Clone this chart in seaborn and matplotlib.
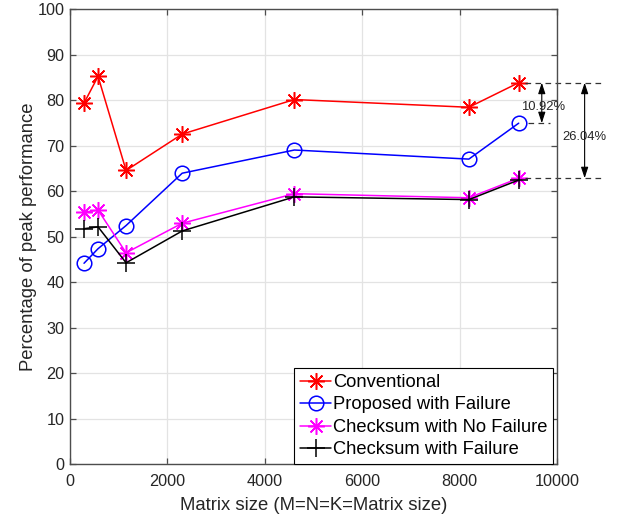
import numpy as np
import pandas as pd
import matplotlib
matplotlib.use("Agg")
import matplotlib.pyplot as plt
import seaborn as sns

# ---- data ----
matrix_size = [288, 576, 1152, 2304, 4608, 8192, 9216]
conventional = [79.4, 85.3, 64.6, 72.6, 80.2, 78.5, 83.9]
proposed_failure = [44.2, 47.4, 52.5, 64.0, 69.1, 67.1, 75.0]
checksum_no_failure = [55.4, 55.9, 46.5, 53.0, 59.5, 58.6, 62.9]
checksum_failure = [51.8, 52.2, 44.3, 51.3, 58.8, 58.2, 62.5]
series_names = ["Conventional", "Proposed with Failure",
                "Checksum with No Failure", "Checksum with Failure"]
x_ticks = [0, 2000, 4000, 6000, 8000, 10000]
y_ticks = list(range(0, 101, 10))
gap_small_label = "10.92%"
gap_large_label = "26.04%"

sns.set_theme(style="ticks")
plt.rcParams["font.family"] = ["Liberation Sans", "DejaVu Sans"]

fig = plt.figure(figsize=(6.25, 5.18), dpi=100)
ax = fig.add_axes([0.112, 0.1037, 0.779, 0.878])

asterisk = (8, 2, 0)
styles = [
    dict(color="#ff0000", marker=asterisk, markersize=12, markerfacecolor="#ff0000"),
    dict(color="#0000ff", marker="o", markersize=10.5, markerfacecolor="none"),
    dict(color="#ff00ff", marker=asterisk, markersize=12, markerfacecolor="#ff00ff"),
    dict(color="#000000", marker="+", markersize=13, markerfacecolor="#000000"),
]
all_y = [conventional, proposed_failure, checksum_no_failure, checksum_failure]
for name, ys, st in zip(series_names, all_y, styles):
    df = pd.DataFrame({"x": matrix_size, "y": ys})
    sns.lineplot(data=df, x="x", y="y", ax=ax, label=name, linewidth=1.1,
                 markeredgecolor=st["color"], markeredgewidth=1.1, **st)

ax.set_xlim(0, 10000)
ax.set_ylim(0, 100)
ax.set_xticks(x_ticks)
ax.set_yticks(y_ticks)
ax.set_xticklabels([str(t) for t in x_ticks], fontsize=11.7)
ax.set_yticklabels([str(t) for t in y_ticks], fontsize=11.7)
ax.grid(True, color="#e3e3e3", lw=0.9)
ax.set_axisbelow(True)
for s in ax.spines.values():
    s.set_visible(True)
    s.set_color("#4d4d4d")
    s.set_linewidth(1.0)
ax.tick_params(direction="in", length=4, width=0.9, color="#4d4d4d",
               top=True, right=True, labelcolor="#262626")
ax.tick_params(axis="x", pad=7)
ax.tick_params(axis="y", pad=4)
ax.set_xlabel("Matrix size (M=N=K=Matrix size)", fontsize=13.3, color="#262626", labelpad=6)
ax.set_ylabel("Percentage of peak performance", fontsize=13.3, color="#262626", labelpad=0.5)

leg = ax.legend(loc="lower right", bbox_to_anchor=(0.993, 0.0), borderaxespad=0,
                fontsize=13.2, frameon=True, fancybox=False, framealpha=1,
                edgecolor="#000000", handlelength=1.7, handletextpad=0.1,
                labelspacing=0.3, borderpad=0.32)
leg.get_frame().set_linewidth(0.8)
for t in leg.get_texts():
    t.set_color("#000000")

# ---- gap annotations ----
top_v = conventional[-1]
mid_v = proposed_failure[-1]
low_v = checksum_no_failure[-1]
dash = dict(color="#333333", lw=0.9, ls=(0, (4.5, 3.5)), clip_on=False)
ax.plot([9340, 10990], [top_v, top_v], **dash)
ax.plot([9400, 9860], [mid_v, mid_v], **dash)
ax.plot([9340, 10990], [low_v, low_v], **dash)
arrow = dict(arrowstyle="<|-|>,head_length=0.55,head_width=0.18", color="black",
             lw=0.8, shrinkA=0, shrinkB=0)
ax.annotate("", xy=(9690, top_v), xytext=(9690, mid_v), arrowprops=arrow,
            annotation_clip=False)
ax.annotate("", xy=(10570, top_v), xytext=(10570, low_v), arrowprops=arrow,
            annotation_clip=False)
ax.text(9720, 78.6, gap_small_label, fontsize=9.4, ha="center",
        va="center", clip_on=False)
ax.text(10575, 72.0, gap_large_label, fontsize=9.4, ha="center", va="center",
        clip_on=False)

fig.savefig("out.png", dpi=100)
